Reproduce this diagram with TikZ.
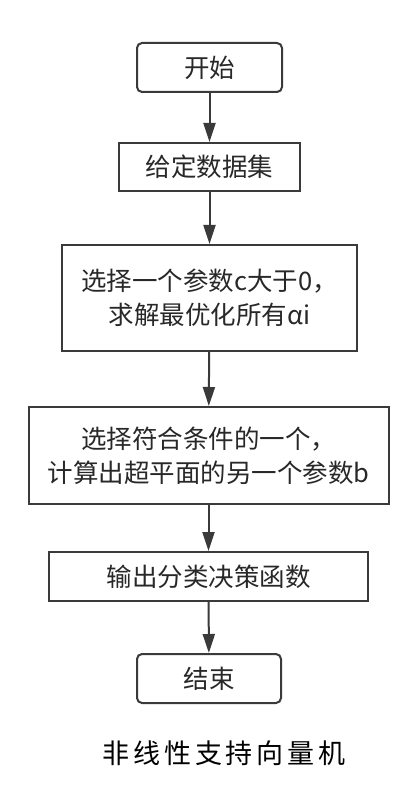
\documentclass[tikz,border=0pt]{standalone}
\usepackage{fontspec}
\usepackage{xcolor}
\usetikzlibrary{arrows.meta,positioning}
\setmainfont{Noto Sans CJK SC}
\newfontfamily\capfont[LetterSpace=14]{Noto Sans CJK SC}
\definecolor{boxline}{RGB}{58,58,58}
\definecolor{boxtext}{RGB}{40,40,40}

\begin{document}
\begin{tikzpicture}[x=1pt,y=-1pt,
		stepbox/.style={draw=boxline,line width=2pt,fill=white,inner sep=0pt,
			text=boxtext,align=center,font=\fontsize{25.5}{34}\selectfont},
		termbox/.style={stepbox,rounded corners=5pt},
		flowarrow/.style={-{Triangle[length=19pt,width=12pt]},boxline,line width=2pt}]
	\useasboundingbox (0,0) rectangle (414,799);
	
	% Start and end, with the steps of the method between them.
	\node[termbox,minimum width=145pt,minimum height=49pt] (start) at (209.5,67.5) {开始};
	\node[stepbox,minimum width=181pt,minimum height=48pt] (data) at (209.5,167) {给定数据集};
	\node[stepbox,minimum width=295pt,minimum height=106pt] (solve) at (209.5,298)
		{选择一个参数c大于0，\\求解最优化所有αi};
	\node[stepbox,minimum width=360pt,minimum height=97pt] (bias) at (208.5,455.5)
		{选择符合条件的一个，\\计算出超平面的另一个参数b};
	\node[stepbox,minimum width=319pt,minimum height=49pt] (output) at (208.5,576.5) {输出分类决策函数};
	\node[termbox,minimum width=144pt,minimum height=49pt] (finish) at (209,678.5) {结束};
	
	\draw[flowarrow] (start) -- (data);
	\draw[flowarrow] (data) -- (solve);
	\draw[flowarrow] (solve) -- (bias);
	\draw[flowarrow] (bias) -- (output);
	\draw[flowarrow] (output) -- (finish);
	
	% Caption under the chart.
	\node[font=\capfont\fontsize{27}{32}\selectfont] (caption) at (224,753) {非线性支持向量机};
\end{tikzpicture}
\end{document}
